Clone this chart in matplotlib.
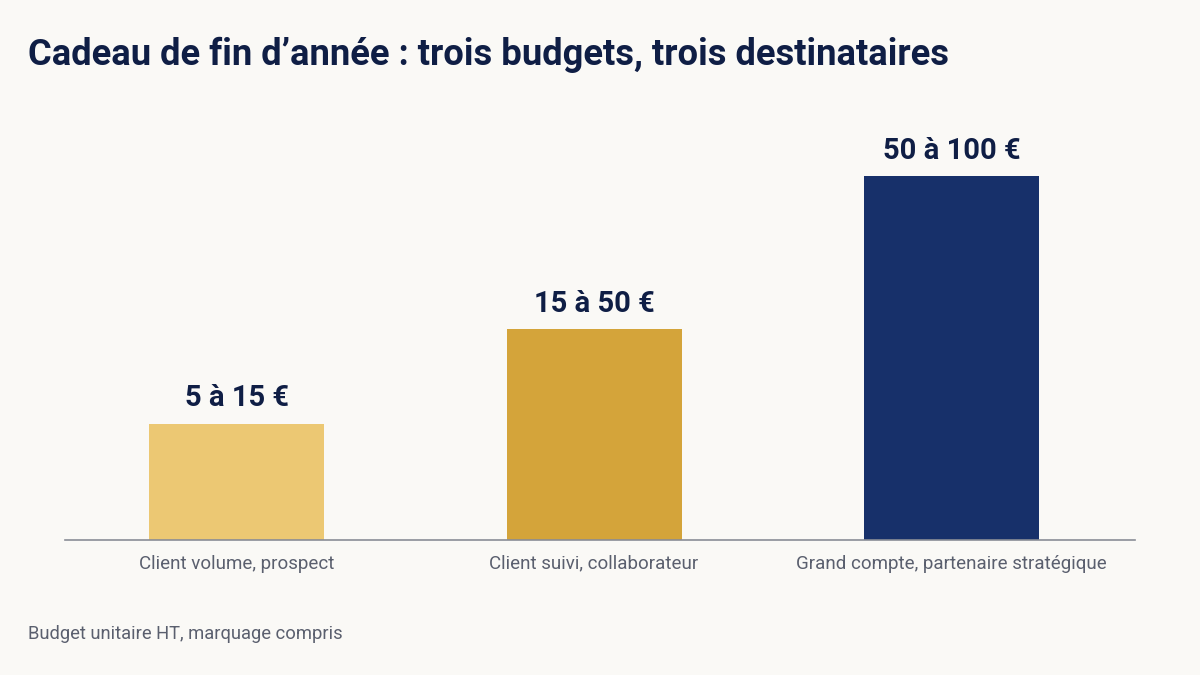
import matplotlib
matplotlib.use("Agg")
import matplotlib.pyplot as plt

categories = ["Client volume, prospect", "Client suivi, collaborateur", "Grand compte, partenaire stratégique"]
bar_heights = [32, 58, 100]  # relative visual height of each budget tier
value_labels = ["5 à 15 €", "15 à 50 €", "50 à 100 €"]
bar_colors = ["#ECC873", "#D4A43A", "#17306A"]

title = "Cadeau de fin d\u2019année : trois budgets, trois destinataires"
footnote = "Budget unitaire HT, marquage compris"

bg = "#FAF9F6"
fig = plt.figure(figsize=(12, 6.75), dpi=100, facecolor=bg)
ax = fig.add_axes([65/1200, 1-540/675, 1070/1200, (540-176)/675])
ax.set_facecolor(bg)

x = list(range(len(categories)))
ax.bar(x, bar_heights, width=0.49, color=bar_colors, zorder=2)
ax.set_xlim(-0.48, 2.513)
ax.set_ylim(0, 100)

for xi, h, lab in zip(x, bar_heights, value_labels):
    ax.annotate(lab, (xi, h), xytext=(0, 8), textcoords="offset points",
                ha="center", va="bottom", fontsize=21, fontweight="bold",
                color="#0F1E45", family="Roboto", annotation_clip=False)

ax.set_xticks(x)
ax.set_xticklabels(categories, fontsize=13.5, color="#5A5F6E", family="Roboto")
ax.tick_params(axis="x", length=0, pad=10.5)
ax.set_yticks([])
for s in ["top", "right", "left"]:
    ax.spines[s].set_visible(False)
ax.spines["bottom"].set_color("#8A8D96")
ax.spines["bottom"].set_linewidth(1.2)

fig.text(28/1200, 1-55/675, title, fontsize=26.2, fontweight="bold", color="#0F1E45",
         family="Roboto", va="center", ha="left")
fig.text(28/1200, 1-634/675, footnote, fontsize=13.2, color="#5A5F6E",
         family="Roboto", va="center", ha="left")

fig.savefig("out.png", dpi=100, facecolor=bg)
